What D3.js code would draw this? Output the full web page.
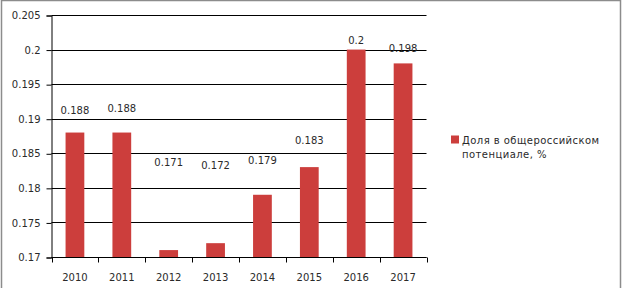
<!DOCTYPE html>
<html><head><meta charset="utf-8">
<script src="https://cdn.jsdelivr.net/npm/d3@7"></script>
<style>body{margin:0;background:#fff}svg{display:block}text{font-family:"DejaVu Sans",sans-serif;font-size:10px;fill:#2a2a2a}</style>
</head><body><svg id="c" width="622" height="288"></svg>
<script>
const years = ["2010","2011","2012","2013","2014","2015","2016","2017"];
const values = [0.188,0.188,0.171,0.172,0.179,0.183,0.2,0.198];
const valueLabels = ["0.188","0.188","0.171","0.172","0.179","0.183","0.2","0.198"];
const labelLift = [18.5,20.5,84,74,31,23,6,11];
const yTicks = [0.17,0.175,0.18,0.185,0.19,0.195,0.2,0.205];
const yTickLabels = ["0.17","0.175","0.18","0.185","0.19","0.195","0.2","0.205"];
const seriesName = ["Доля в общероссийском","потенциале, %"];

const svg = d3.select("#c");
svg.append("rect").attr("x",1.5).attr("y",0.5).attr("width",619).attr("height",300)
  .attr("fill","none").attr("stroke","#8c8c8c").attr("stroke-width",1.5);

const x = d3.scaleBand().domain(years).range([51.5,426.5]).paddingInner(0.6).paddingOuter(0.3);
const y = d3.scaleLinear().domain([0.17,0.205]).range([257,15]);

// gridlines
svg.append("g").selectAll("line").data(yTicks).join("line")
  .attr("x1",51.5).attr("x2",426.5)
  .attr("y1",d=>Math.round(y(d))+0.5).attr("y2",d=>Math.round(y(d))+0.5)
  .attr("stroke","#000").attr("stroke-width",1);

// bars
svg.append("g").selectAll("rect").data(values).join("rect")
  .attr("x",(d,i)=>x(years[i])).attr("width",x.bandwidth())
  .attr("y",d=>y(d)).attr("height",d=>y(0.17)-y(d))
  .attr("fill","#cc3e3c");

// y axis
const yAxis = d3.axisLeft(y).tickValues(yTicks).tickFormat((d,i)=>yTickLabels[i]).tickSize(5).tickPadding(6);
const gy = svg.append("g").attr("transform","translate(51.5,0.5)").call(yAxis);
gy.select(".domain").attr("stroke","#000");
gy.selectAll(".tick line").attr("stroke","#000");
gy.selectAll("text").style("font-family","DejaVu Sans").style("font-size","10px").attr("fill","#2a2a2a");

// x axis
const bx = d3.scaleLinear().domain([0,years.length]).range([51.5,426.5]);
const gx = svg.append("g").attr("transform","translate(0,257.5)");
gx.append("line").attr("x1",51.5).attr("x2",426.5).attr("stroke","#000");
gx.selectAll("line.t").data(d3.range(years.length+1)).join("line").attr("class","t")
  .attr("x1",d=>Math.round(bx(d))+0.5).attr("x2",d=>Math.round(bx(d))+0.5)
  .attr("y1",0).attr("y2",5).attr("stroke","#000");
gx.selectAll("text").data(years).join("text")
  .attr("x",d=>x(d)+x.bandwidth()/2).attr("y",23.5).attr("text-anchor","middle").text(d=>d);

// value labels
svg.append("g").selectAll("text").data(values).join("text")
  .attr("x",(d,i)=>x(years[i])+x.bandwidth()/2)
  .attr("y",(d,i)=>y(d)-labelLift[i])
  .attr("text-anchor","middle").text((d,i)=>valueLabels[i]);

// legend
const lg = svg.append("g");
lg.append("rect").attr("x",451).attr("y",135.5).attr("width",8).attr("height",8).attr("fill","#cc3e3c");
lg.selectAll("text").data(seriesName).join("text")
  .attr("x",462).attr("y",(d,i)=>143.5+i*14.5).attr("letter-spacing","0.45px").text(d=>d);
</script></body></html>
